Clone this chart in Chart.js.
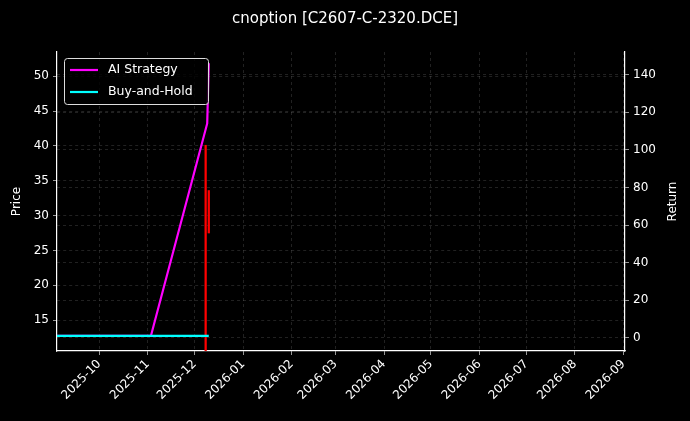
<!DOCTYPE html>
<html><head><meta charset="utf-8">
<script src="https://cdn.jsdelivr.net/npm/chart.js@4"></script>
<style>html,body{margin:0;padding:0;background:#000;}#c{display:block;}</style>
</head><body>
<div style="width:690px;height:421px"><canvas id="c"></canvas></div>
<script>
const candleDates = ["2025-12-08", "2025-12-10"];
const candleLow = [10.0, 27.5];
const candleHigh = [40.1, 33.6];
const aiDates = ["2025-09-04", "2025-11-03", "2025-12-09", "2025-12-10"];
const aiReturn = [1, 1, 114, 146];
const bhDates = ["2025-09-04", "2025-12-10"];
const bhReturn = [1, 1];
const monthTicks = ["2025-10","2025-11","2025-12","2026-01","2026-02","2026-03","2026-04","2026-05","2026-06","2026-07","2026-08","2026-09"];
const priceTicks = [15,20,25,30,35,40,45,50];
const returnTicks = [0,20,40,60,80,100,120,140];

const day = s => Date.parse(s.length===7 ? s+"-01T00:00:00Z" : s+"T00:00:00Z")/86400000;
const monthVals = monthTicks.map(day);

const legendPlugin = {
  id:'legbox',
  beforeDraw(chart){const c=chart.ctx;c.save();c.fillStyle='#000';c.fillRect(0,0,chart.width,chart.height);c.restore();},
  afterDraw(chart){
    const c=chart.ctx, a=chart.chartArea;
    c.save();
    const x=a.left+7,y=a.top+6,w=144,h=46;
    c.fillStyle='rgba(0,0,0,0.8)';c.strokeStyle='#ddd';c.lineWidth=1;
    c.beginPath();c.roundRect(x+0.5,y+0.5,w,h,3);c.fill();c.stroke();
    const items=[['AI Strategy','#ff00ff'],['Buy-and-Hold','#00ffff']];
    c.font='12.5px "DejaVu Sans"';c.textBaseline='middle';
    items.forEach((it,i)=>{const yy=y+12+i*22;
      c.strokeStyle=it[1];c.lineWidth=2.2;c.beginPath();c.moveTo(x+6,yy);c.lineTo(x+34,yy);c.stroke();
      c.fillStyle='#fff';c.fillText(it[0],x+44,yy);});
    // axis titles
    c.font='12px "DejaVu Sans"';c.textAlign='center';c.textBaseline='middle';
    c.translate(17,(a.top+a.bottom)/2);c.rotate(-Math.PI/2);c.fillText('Price',0,0);
    c.setTransform(1,0,0,1,0,0);c.scale(chart.currentDevicePixelRatio,chart.currentDevicePixelRatio);
    c.translate(673,(a.top+a.bottom)/2);c.rotate(-Math.PI/2);c.fillText('Return',0,0);
    c.restore();
  }
};
const grid={color:'rgba(160,160,160,0.35)',lineWidth:0.6,tickColor:'#fff',tickLength:4,drawTicks:true};
const border={color:'#fff',width:1.2,dash:[3,3]};
const font={family:'"DejaVu Sans"',size:12};
new Chart(document.getElementById('c'),{
  data:{datasets:[
    {type:'bar',label:'Candles',yAxisID:'y',data:candleDates.map((d,i)=>({x:day(d),y:[candleLow[i],candleHigh[i]]})),backgroundColor:'#ff0000',barThickness:1.6,order:3},
    {type:'line',label:'AI Strategy',yAxisID:'y1',data:aiDates.map((d,i)=>({x:day(d),y:aiReturn[i]})),borderColor:'#ff00ff',borderWidth:2.2,pointRadius:0,tension:0,order:2},
    {type:'line',label:'Buy-and-Hold',yAxisID:'y1',data:bhDates.map((d,i)=>({x:day(d),y:bhReturn[i]})),borderColor:'#00ffff',borderWidth:2.2,pointRadius:0,tension:0,order:1}
  ]},
  options:{responsive:true,maintainAspectRatio:false,animation:false,
    layout:{padding:{left:0,right:0,top:0,bottom:0}},
    plugins:{legend:{display:false},tooltip:{enabled:false},
      title:{display:true,text:'cnoption [C2607-C-2320.DCE]',color:'#fff',font:{family:'"DejaVu Sans"',size:15,weight:'normal'},padding:{top:10,bottom:24}}},
    scales:{
      x:{type:'linear',offset:false,min:day('2025-09-04'),max:day('2026-09-02'),
        afterBuildTicks(s){s.ticks=monthVals.map(v=>({value:v}));},
        afterFit(s){s.height=70;},
        ticks:{color:'#fff',font,minRotation:45,maxRotation:45,autoSkip:false,padding:2,
          callback:(v)=>{const i=monthVals.indexOf(v);return i>=0?monthTicks[i]:'';}},
        grid:{...grid,offset:false}, border},
      y:{position:'left',min:10.55,max:53.5,
        afterBuildTicks(s){s.ticks=priceTicks.map(v=>({value:v}));},
        afterFit(s){s.width=57;},
        ticks:{color:'#fff',font,padding:4},
        grid, border},
      y1:{position:'right',min:-7,max:152,
        afterBuildTicks(s){s.ticks=returnTicks.map(v=>({value:v}));},
        afterFit(s){s.width=65;},
        ticks:{color:'#fff',font,padding:4},
        grid, border}
    }},
  plugins:[legendPlugin]
});
</script></body></html>
